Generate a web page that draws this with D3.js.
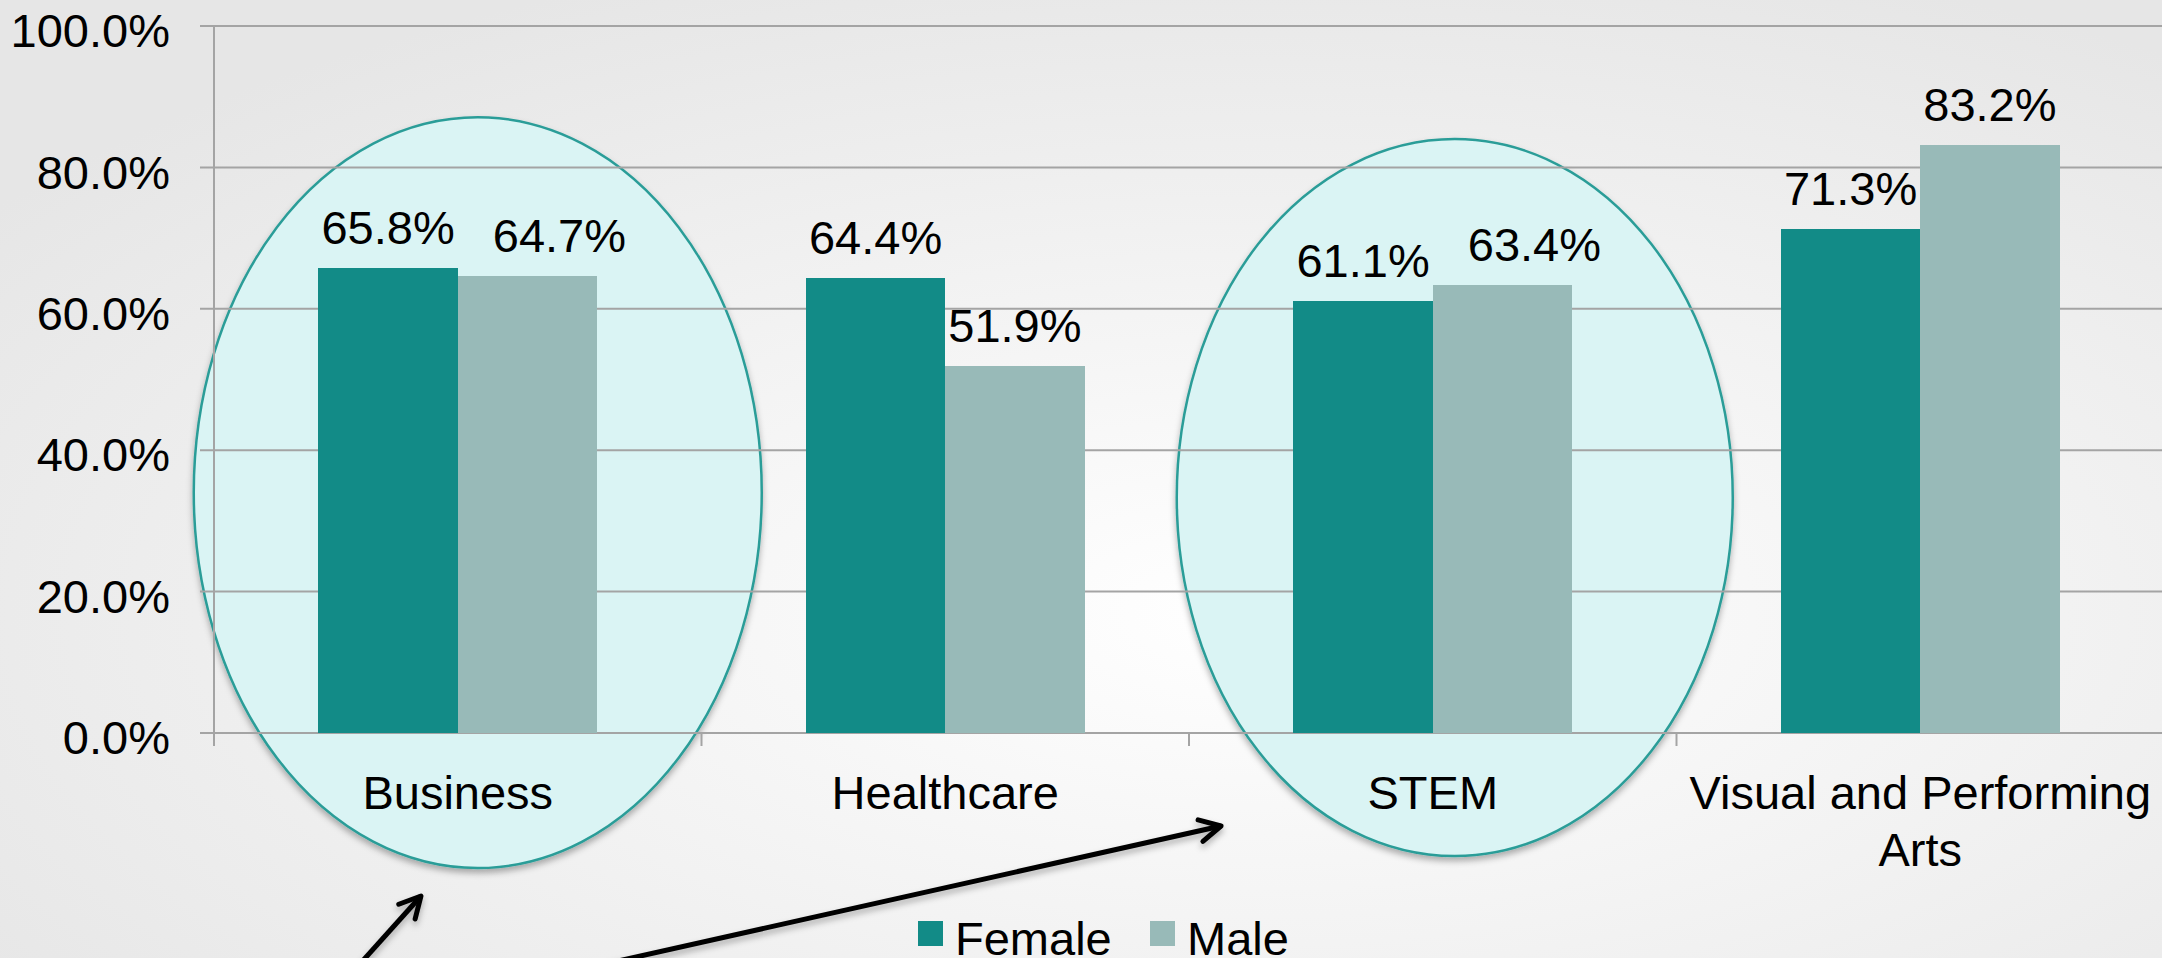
<!doctype html>
<html>
<head>
<meta charset="utf-8">
<script src="https://cdn.jsdelivr.net/npm/d3@7"></script>
<style>
    html, body { margin: 0; padding: 0; background: #eeeeee; overflow: hidden; }
    svg { display: block; font-family: "Liberation Sans", Arial, sans-serif; }
</style>
</head>
<body>
<div id="chart"></div>
<script>
    // chart data
    var categories = ["Business", "Healthcare", "STEM", "Visual and Performing Arts"];
    var series = ["Female", "Male"];
    var female = [65.8, 64.4, 61.1, 71.3];
    var male = [64.7, 51.9, 63.4, 83.2];
    var yTicks = [0, 20, 40, 60, 80, 100];
    var highlighted = ["Business", "STEM"];

    var colors = { Female: "#128b87", Male: "#98bab8" };
    var w = 2162, h = 958;
    // note: "top" is reserved on window, so use plot* names
    var plotLeft = 214, plotRight = 2164, plotTop = 26, plotBottom = 733;
    var fontSize = 47;

    var svg = d3.select("#chart").append("svg")
        .attr("width", w)
        .attr("height", h);

    var defs = svg.append("defs");
    var bg = defs.append("radialGradient")
        .attr("id", "bg")
        .attr("cx", "58%").attr("cy", "64%").attr("r", "72%");
    bg.append("stop").attr("offset", "0%").attr("stop-color", "#ffffff");
    bg.append("stop").attr("offset", "100%").attr("stop-color", "#e6e6e6");

    var shadow = defs.append("filter")
        .attr("id", "shadow")
        .attr("x", "-10%").attr("y", "-10%")
        .attr("width", "120%").attr("height", "130%");
    shadow.append("feDropShadow")
        .attr("dx", 0).attr("dy", 4)
        .attr("stdDeviation", 3)
        .attr("flood-color", "#000")
        .attr("flood-opacity", 0.3);

    defs.append("marker")
        .attr("id", "head")
        .attr("markerUnits", "userSpaceOnUse")
        .attr("viewBox", "-30 -15 35 30")
        .attr("markerWidth", 35).attr("markerHeight", 30)
        .attr("refX", 0).attr("refY", 0)
        .attr("orient", "auto")
        .append("path")
        .attr("d", "M-21,-11 L0,0 L-21,11")
        .attr("fill", "none")
        .attr("stroke", "#000")
        .attr("stroke-width", 5)
        .attr("stroke-linecap", "round")
        .attr("stroke-linejoin", "round");

    svg.append("rect")
        .attr("width", w).attr("height", h)
        .attr("fill", "url(#bg)");

    var x0 = d3.scaleBand()
        .domain(categories)
        .range([plotLeft, plotRight])
        .padding(0);

    var x1 = d3.scaleBand()
        .domain(series)
        .range([0, x0.bandwidth()])
        .paddingInner(0)
        .paddingOuter(0.75);

    var y = d3.scaleLinear()
        .domain([0, 100])
        .range([plotBottom, plotTop]);

    // highlight ellipses behind the chart
    var rings = { Business: { dx: 20, rx: 284, hi: 87.1, lo: -19.1 },
                  STEM: { dx: 22, rx: 278, hi: 84.0, lo: -17.4 } };
    svg.append("g").selectAll("ellipse")
        .data(highlighted)
        .enter()
        .append("ellipse")
        .attr("cx", function (d) { return x0(d) + x0.bandwidth() / 2 + rings[d].dx; })
        .attr("cy", function (d) { return (y(rings[d].hi) + y(rings[d].lo)) / 2; })
        .attr("rx", function (d) { return rings[d].rx; })
        .attr("ry", function (d) { return (y(rings[d].lo) - y(rings[d].hi)) / 2; })
        .attr("fill", "#daf4f4")
        .attr("stroke", "#2b9d98")
        .attr("stroke-width", 2.5)
        .attr("filter", "url(#shadow)");

    // gridlines
    svg.append("g").selectAll("line")
        .data(yTicks)
        .enter()
        .append("line")
        .attr("x1", plotLeft - 14)
        .attr("x2", w)
        .attr("y1", function (d) { return y(d); })
        .attr("y2", function (d) { return y(d); })
        .attr("stroke", "#a4a4a4")
        .attr("stroke-width", 2);

    // y axis labels
    var yAxis = svg.append("g")
        .attr("transform", "translate(" + plotLeft + ",0)")
        .call(d3.axisLeft(y).tickValues(yTicks).tickSize(14).tickPadding(30)
            .tickFormat(function (d) { return d.toFixed(1) + "%"; }));
    yAxis.select(".domain").remove();
    yAxis.selectAll(".tick line").remove();
    yAxis.selectAll("text")
        .attr("dy", "0.44em")
        .style("font-size", fontSize + "px")
        .style("font-family", "'Liberation Sans', Arial, sans-serif")
        .attr("fill", "#000");

    svg.append("line")
        .attr("x1", plotLeft).attr("x2", plotLeft)
        .attr("y1", plotTop).attr("y2", plotBottom + 13)
        .attr("stroke", "#a4a4a4")
        .attr("stroke-width", 2);

    // category tick marks at band edges
    svg.append("g").selectAll("line")
        .data(categories.map(function (c) { return x0(c); }).concat([plotRight]))
        .enter()
        .append("line")
        .attr("x1", function (d) { return d; })
        .attr("x2", function (d) { return d; })
        .attr("y1", plotBottom)
        .attr("y2", plotBottom + 13)
        .attr("stroke", "#a4a4a4")
        .attr("stroke-width", 2);

    var rows = categories.map(function (c, i) {
        // when both values are close the male label is nudged right so the two don't touch
        var nudge = Math.abs(female[i] - male[i]) < 4 ? 32 : 0;
        return { cat: c, values: [{ key: "Female", v: female[i], nudge: 0 },
                                  { key: "Male", v: male[i], nudge: nudge }] };
    });

    var groups = svg.append("g").selectAll("g")
        .data(rows)
        .enter()
        .append("g")
        .attr("transform", function (d) { return "translate(" + x0(d.cat) + ",0)"; });

    groups.selectAll("rect")
        .data(function (d) { return d.values; })
        .enter()
        .append("rect")
        .attr("x", function (d) { return x1(d.key); })
        .attr("y", function (d) { return y(d.v); })
        .attr("width", x1.bandwidth())
        .attr("height", function (d) { return plotBottom - y(d.v); })
        .attr("fill", function (d) { return colors[d.key]; })
        .attr("shape-rendering", "crispEdges");

    groups.selectAll("text")
        .data(function (d) { return d.values; })
        .enter()
        .append("text")
        .attr("x", function (d) { return x1(d.key) + x1.bandwidth() / 2 + d.nudge; })
        .attr("y", function (d) { return y(d.v) - 24; })
        .attr("text-anchor", "middle")
        .style("font-size", fontSize + "px")
        .text(function (d) { return d.v.toFixed(1) + "%"; });

    // category labels, wrapped to the band width
    var catLabels = svg.append("g").selectAll("text")
        .data(categories)
        .enter()
        .append("text")
        .attr("x", function (d) { return x0(d) + x0.bandwidth() / 2; })
        .attr("y", plotBottom + 76)
        .attr("text-anchor", "middle")
        .style("font-size", fontSize + "px")
        .text(function (d) { return d; });

    catLabels.each(function () {
        var text = d3.select(this);
        var words = text.text().split(" ");
        var x = text.attr("x");
        var line = [];
        var tspan = text.text(null).append("tspan").attr("x", x);
        words.forEach(function (word) {
            line.push(word);
            tspan.text(line.join(" "));
            if (tspan.node().getComputedTextLength() > x0.bandwidth() - 10 && line.length > 1) {
                line.pop();
                tspan.text(line.join(" "));
                line = [word];
                tspan = text.append("tspan").attr("x", x).attr("dy", "1.21em").text(word);
            }
        });
    });

    // legend
    var legend = svg.append("g").selectAll("g")
        .data(series)
        .enter()
        .append("g")
        .attr("transform", function (d, i) { return "translate(" + (918 + i * 232) + ",921)"; });
    legend.append("rect")
        .attr("width", 25)
        .attr("height", 25)
        .attr("fill", function (d) { return colors[d]; });
    legend.append("text")
        .attr("x", 37)
        .attr("y", 34)
        .style("font-size", fontSize + "px")
        .text(function (d) { return d; });

    // arrows pointing at the highlighted groups
    var arrows = [
        { x1: 350, y1: 975, x2: 421, y2: 896 },
        { x1: 560, y1: 974, x2: 1221, y2: 826 }
    ];
    svg.append("g").selectAll("line")
        .data(arrows)
        .enter()
        .append("line")
        .attr("x1", function (d) { return d.x1; })
        .attr("y1", function (d) { return d.y1; })
        .attr("x2", function (d) { return d.x2; })
        .attr("y2", function (d) { return d.y2; })
        .attr("stroke", "#000")
        .attr("stroke-width", 5)
        .attr("marker-end", "url(#head)")
        .attr("filter", "url(#shadow)");
</script>
</body>
</html>
